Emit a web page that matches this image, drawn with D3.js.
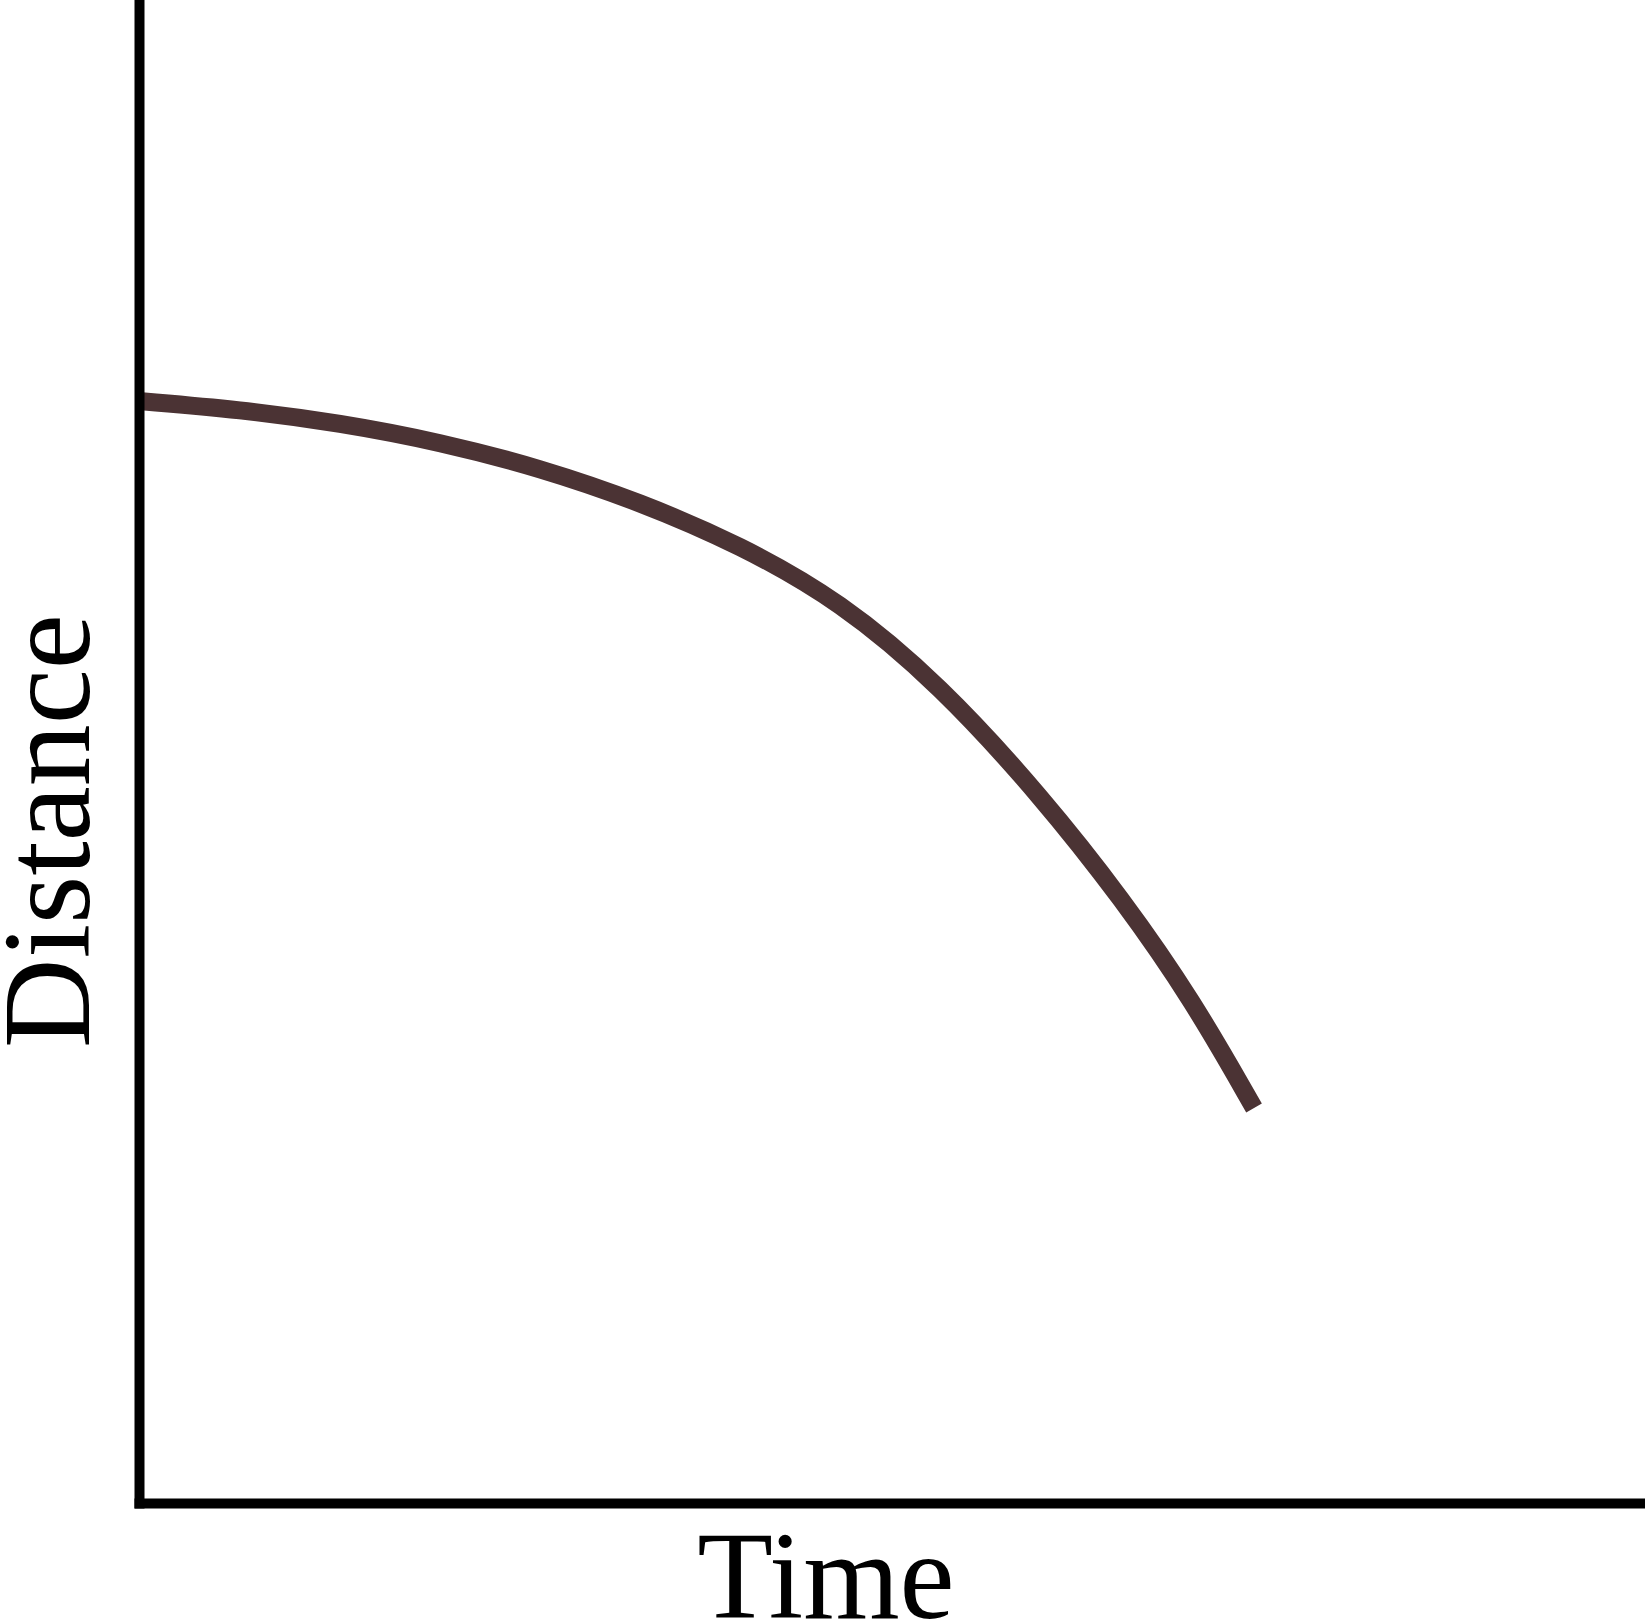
<!DOCTYPE html>
<html>
<head>
	<title>Distance vs Time</title>
	<script src="https://d3js.org/d3.v7.min.js"></script>
	<style>
		body { margin: 0; background: #fff; }
	</style>
</head>
<body>
<script>
// values (arbitrary units, 0-10 on both axes)
var time = [0, 0.671, 1.335, 1.999, 2.663, 3.327, 3.991, 4.655, 5.319, 5.989, 6.534, 6.999, 7.404];
var distance = [7.332, 7.275, 7.186, 7.059, 6.886, 6.66, 6.374, 6.001, 5.442, 4.704, 4.012, 3.34, 2.628];
var xLabel = "Time";
var yLabel = "Distance";

var width = 1645, height = 1622;
var serif = "'Liberation Serif', 'Times New Roman', 'DejaVu Serif', serif";

var svg = d3.select("body")
       .append("svg")
       .attr("width", width)
       .attr("height", height);

var x = d3.scaleLinear().domain([0, 10]).range([139, 1645]);
var y = d3.scaleLinear().domain([0, 10]).range([1503, 0]);

var points = time.map(function(t, i) { return [t, distance[i]]; });

// basis spline smooths out reading errors in the hand-read points
var line = d3.line()
       .x(function(d) { return x(d[0]); })
       .y(function(d) { return y(d[1]); })
       .curve(d3.curveBasis);

svg.append("path")
       .datum(points)
       .attr("d", line)
       .attr("fill", "none")
       .attr("stroke", "#4b3334")
       .attr("stroke-width", 18)
       .attr("stroke-linecap", "butt");

// axes: plain thick lines, no ticks
svg.append("g")
       .attr("transform", "translate(0," + y(0) + ")")
       .call(d3.axisBottom(x).tickValues([]).tickSizeOuter(0));
svg.append("g")
       .attr("transform", "translate(" + x(0) + ",0)")
       .call(d3.axisLeft(y).tickValues([]).tickSizeOuter(0));

svg.selectAll(".domain")
       .attr("stroke", "#000")
       .attr("stroke-width", 10)
       .attr("stroke-linecap", "square");

svg.append("text")
       .attr("x", 826)
       .attr("y", 1618)
       .attr("text-anchor", "middle")
       .attr("font-family", serif)
       .attr("font-size", 124)
       .text(xLabel);

svg.append("text")
       .attr("transform", "translate(89,831) rotate(-90)")
       .attr("text-anchor", "middle")
       .attr("font-family", serif)
       .attr("font-size", 124)
       .text(yLabel);
</script>
</body>
</html>
